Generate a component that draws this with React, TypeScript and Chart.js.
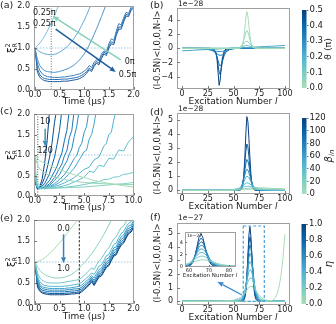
import React, { useEffect, useRef } from "react";
import { Chart, registerables } from "chart.js";
Chart.register(...registerables);

const W = 336;
const H = 324;
const FONT = "DejaVu Sans";
const FRAME = "#a0a0a0";
const TICKC = "#555";
const TXT = "#1a1a1a";
const FS = 8;
Chart.defaults.font.family = FONT;

// ---------------- data ----------------
const tA = [0,0.05,0.1,0.15,0.2,0.25,0.3,0.35,0.4,0.45,0.5,0.55,0.6,0.65,0.7,0.75,0.8,0.85,0.9,0.95,1.0,1.05,1.1,1.15,1.2,1.25,1.3,1.35,1.4,1.45,1.5,1.55,1.6,1.65,1.7,1.75,1.8,1.85,1.9,1.95,2.0];
const timeTicks2 = [0, 0.5, 1, 1.5, 2];
const xiTicks = [0, 0.5, 1, 1.5, 2];
const timeTicks10 = [0, 2.5, 5, 7.5, 10];
const exTicks = [0, 25, 50, 75, 100];
const bTicks = [-4, -2, 0, 2, 4];
const dTicks = [0, 1, 2, 3, 4, 5];
const fTicks = [0, 1, 2, 3, 4, 5];
const insetXTicks = [60, 70, 80];
const insetYTicks = [0, 2, 4];
const cbThetaTicks = [0, 0.1, 0.2, 0.3, 0.4, 0.5];
const cbBetaTicks = [0, 20, 40, 60, 80, 100, 120];
const cbEtaTicks = [0, 0.2, 0.4, 0.6, 0.8, 1.0];

// (a) squeezing vs time for several theta
const a1 = [1.0,1.05,1.12,1.2,1.29,1.4,1.52,1.65,1.79,1.93,2.08];
const a2 = [1.0,0.95,0.91,0.88,0.86,0.85,0.84,0.84,0.85,0.87,0.9,0.94,0.98,1.03,1.09,1.16,1.24,1.33,1.43,1.54,1.66,1.79,1.93,2.08];
const a3 = [1.0,0.72,0.58,0.5,0.46,0.44,0.43,0.42,0.42,0.43,0.44,0.46,0.48,0.5,0.53,0.56,0.6,0.65,0.71,0.78,0.86,0.96,1.07,1.19,1.32,1.46,1.6,1.75,1.9,2.05];
const a4 = [1.0,0.62,0.46,0.38,0.34,0.32,0.31,0.3,0.3,0.3,0.3,0.31,0.31,0.32,0.33,0.34,0.35,0.37,0.38,0.41,0.45,0.5,0.58,0.54,0.66,0.72,0.7,0.86,0.93,0.9,1.1,1.22,1.18,1.4,1.58,1.55,1.72,1.85,1.82,1.97,2.02];
const a5 = [1.0,0.5,0.36,0.3,0.27,0.26,0.25,0.25,0.25,0.25,0.25,0.26,0.26,0.26,0.27,0.28,0.29,0.3,0.32,0.35,0.39,0.44,0.52,0.48,0.6,0.68,0.64,0.8,0.9,0.86,1.05,1.15,1.12,1.35,1.5,1.5,1.68,1.8,1.78,1.92,1.98];
const a6 = [1.0,0.42,0.3,0.25,0.22,0.21,0.2,0.2,0.2,0.2,0.2,0.21,0.21,0.21,0.22,0.23,0.24,0.25,0.27,0.3,0.34,0.4,0.48,0.44,0.56,0.64,0.6,0.75,0.86,0.82,1.0,1.1,1.08,1.3,1.45,1.45,1.62,1.76,1.75,1.9,1.95];
const aCurves = [a1, a2, a3, a4, a5, a6];
const aColors = ["#78bde2", "#63aad8", "#4d96c8", "#3b82bc", "#2b6eaf", "#1c5a9d"];

// (c) squeezing vs time for beta_in (dark = 120 ... light = 10)
const cT = [
  [0,0.1,0.25,0.5,0.75,1,1.25,1.5],
  [0,0.1,0.25,0.5,0.75,1,1.25,1.5,1.75,2,2.25],
  [0,0.1,0.25,0.5,1,1.25,1.5,1.75,2,2.25,2.5,2.75],
  [0,0.1,0.25,0.5,1,1.5,2,2.25,2.5,2.75,3,3.25,3.5],
  [0,0.1,0.25,0.5,1,1.5,2,2.5,2.75,3,3.25,3.5,3.75,4],
  [0,0.1,0.25,0.5,1,1.5,2,2.5,3,3.25,3.5,3.75,4,4.25,4.5],
  [0,0.1,0.25,0.5,1,1.5,2,2.5,3,3.5,4,4.25,4.5,4.75,5,5.25,5.5],
  [0,0.1,0.25,0.5,1,1.5,2,2.5,3,3.5,4,4.5,5,5.25,5.5,5.75,6,6.25],
  [0,0.1,0.25,0.5,1,1.5,2,2.5,3,3.5,4,4.5,5,5.5,6,6.5,7,7.25,7.5,7.75,8,8.25],
  [0,0.1,0.25,0.5,1,2,3,3.5,4,4.5,5,5.5,6,6.5,7,7.5,8,8.5,9,9.5,10],
  [0,0.1,0.25,0.5,1,2,3,4,5,6,6.5,7,7.5,8,8.5,9,9.5,10],
  [0,0.1,0.25,0.5,1,2,3,4,5,6,7,8,9,10],
  [0,0.25,0.5,1,1.5,2,3,4,5,6,7,8,9,10],
  [0,0.25,0.5,1,1.5,2,3,4,5,6,7,8,9,10],
];
const cV = [
  [1,0.3,0.18,0.22,0.42,0.8,1.35,2.1],
  [1,0.31,0.18,0.2,0.3,0.45,0.68,0.95,1.3,1.8,2.15],
  [1,0.32,0.19,0.19,0.3,0.42,0.55,0.75,0.95,1.25,1.6,2.1],
  [1,0.33,0.19,0.18,0.24,0.38,0.6,0.72,0.9,1.05,1.35,1.6,2.1],
  [1,0.34,0.2,0.18,0.21,0.3,0.45,0.68,0.78,0.98,1.1,1.42,1.6,2.1],
  [1,0.35,0.2,0.18,0.2,0.26,0.38,0.52,0.75,0.85,1.02,1.15,1.45,1.7,2.1],
  [1,0.36,0.21,0.18,0.19,0.23,0.3,0.4,0.52,0.7,0.92,0.98,1.18,1.28,1.55,1.7,2.1],
  [1,0.37,0.21,0.18,0.18,0.21,0.26,0.33,0.42,0.55,0.68,0.88,1.08,1.12,1.38,1.5,1.75,2.1],
  [1,0.38,0.22,0.19,0.18,0.2,0.23,0.27,0.32,0.38,0.45,0.55,0.65,0.7,0.88,0.95,1.22,1.28,1.5,1.55,1.85,2.1],
  [1,0.4,0.23,0.19,0.18,0.2,0.25,0.29,0.34,0.4,0.46,0.6,0.58,0.75,0.72,0.92,0.9,1.12,1.1,1.32,1.45],
  [1,0.45,0.27,0.21,0.19,0.19,0.21,0.24,0.28,0.33,0.35,0.4,0.41,0.46,0.47,0.53,0.54,0.58],
  [1,0.55,0.34,0.26,0.22,0.2,0.2,0.21,0.22,0.24,0.26,0.28,0.3,0.33],
  [1,0.78,0.66,0.56,0.5,0.46,0.4,0.36,0.33,0.31,0.3,0.29,0.28,0.28],
  [1,0.92,0.86,0.8,0.74,0.69,0.6,0.52,0.45,0.38,0.33,0.29,0.25,0.22],
];

// (e) squeezing vs time for eta (light = 0 ... dark = 1)
const e0 = [1.0,1.01,1.03,1.06,1.1,1.15,1.2,1.26,1.32,1.39,1.46,1.53,1.6,1.68,1.75,1.83,1.9,1.98,2.06];
const e1 = [1.0,0.88,0.8,0.74,0.7,0.67,0.65,0.63,0.62,0.62,0.62,0.63,0.64,0.66,0.68,0.71,0.75,0.8,0.86,0.92,0.98,1.05,1.12,1.2,1.28,1.37,1.46,1.56,1.66,1.77,1.88,2.0,2.1];
const e2 = [1.0,0.74,0.62,0.56,0.53,0.51,0.5,0.5,0.5,0.5,0.5,0.51,0.52,0.53,0.54,0.55,0.56,0.57,0.59,0.63,0.68,0.74,0.8,0.86,0.82,0.93,1.03,1.08,1.18,1.28,1.34,1.45,1.55,1.6,1.72,1.82,1.86,1.96,2.05];
const e3 = [1.0,0.66,0.53,0.47,0.44,0.43,0.42,0.42,0.42,0.42,0.42,0.42,0.43,0.43,0.44,0.45,0.46,0.47,0.48,0.52,0.57,0.62,0.68,0.74,0.7,0.8,0.9,0.93,1.04,1.15,1.18,1.3,1.42,1.45,1.58,1.68,1.72,1.84,1.92,1.96,2.05];
const e4 = [1.0,0.6,0.47,0.41,0.39,0.38,0.37,0.37,0.37,0.37,0.37,0.37,0.37,0.38,0.38,0.39,0.4,0.41,0.42,0.45,0.5,0.55,0.61,0.68,0.62,0.72,0.82,0.85,0.96,1.07,1.1,1.22,1.34,1.36,1.5,1.6,1.64,1.76,1.86,1.88,1.98];
const e5 = [1.0,0.55,0.43,0.37,0.35,0.34,0.33,0.33,0.33,0.33,0.33,0.33,0.33,0.34,0.34,0.35,0.36,0.36,0.37,0.4,0.45,0.5,0.56,0.64,0.56,0.66,0.76,0.8,0.9,1.0,1.04,1.16,1.28,1.3,1.44,1.54,1.58,1.7,1.8,1.83,1.93];
const e6 = [1.0,0.5,0.38,0.33,0.31,0.3,0.29,0.29,0.29,0.29,0.29,0.29,0.29,0.3,0.3,0.31,0.31,0.32,0.33,0.36,0.41,0.46,0.52,0.6,0.51,0.61,0.71,0.75,0.85,0.95,0.99,1.11,1.22,1.25,1.38,1.48,1.53,1.65,1.75,1.78,1.88];
const e7 = [1.0,0.45,0.34,0.29,0.27,0.26,0.25,0.25,0.25,0.25,0.25,0.25,0.25,0.26,0.26,0.27,0.27,0.28,0.29,0.32,0.37,0.42,0.48,0.56,0.47,0.57,0.67,0.7,0.8,0.9,0.94,1.06,1.17,1.2,1.33,1.43,1.48,1.6,1.7,1.74,1.84];
const e8 = [1.0,0.4,0.3,0.26,0.24,0.23,0.22,0.22,0.22,0.22,0.22,0.22,0.22,0.23,0.23,0.24,0.24,0.25,0.26,0.29,0.34,0.39,0.45,0.53,0.44,0.54,0.64,0.67,0.77,0.87,0.91,1.03,1.14,1.17,1.3,1.4,1.45,1.57,1.67,1.71,1.81];
const eCurves = [e0, e1, e2, e3, e4, e5, e6, e7, e8];

// (b) overlap vs excitation number (x1e-28), dark = 0.5pi ... light = 0
const lB = [0,10,20,26,29,31,33,34,35,36,37,38,39,41,43,46,50,55,57,58,59,60,61,62,63,64,65,66,67,69,72,76,80,90,100];
const b1 = [0,0,0,0,-0.02,-0.15,-0.7,-1.6,-3.4,-5.25,-4.5,-2.8,-1.5,-0.35,-0.05,0,0,0,0,0,0,0,0,0,0,0,0,0,0,0,0,0,0,0,0];
const b2 = [0,0,0,0,-0.05,-0.2,-0.65,-1.3,-2.4,-3.4,-3.7,-3.0,-2.0,-0.6,-0.15,-0.02,0,0,0,0,0,0,0,0,0,0,0,0,0,0,0,0,0,0,0];
const b3 = [0,0,0,-0.02,-0.12,-0.35,-0.8,-1.25,-1.75,-2.25,-2.5,-2.3,-1.9,-1.0,-0.4,-0.08,0,0,0,0,0,0,0,0,0,0,0,0,0,0,0,0,0,0,0];
const b4 = [0,0,-0.02,-0.12,-0.3,-0.45,-0.65,-0.78,-0.88,-0.96,-1.0,-0.98,-0.92,-0.75,-0.5,-0.2,-0.05,0,0,0,0,0,0,0,0,0,0,0,0,0,0,0,0,0,0];
const b5 = [0,-0.02,-0.08,-0.2,-0.3,-0.35,-0.4,-0.42,-0.44,-0.45,-0.45,-0.44,-0.43,-0.38,-0.3,-0.18,-0.05,0,0,0,0,0,0,0,0,0,0,0,0,0,0,0,0,0,0];
const b6 = [-0.35,-0.28,-0.2,-0.16,-0.13,-0.12,-0.1,-0.1,-0.09,-0.08,-0.07,-0.07,-0.06,-0.04,-0.03,-0.01,0.02,0.06,0.08,0.08,0.09,0.1,0.11,0.11,0.12,0.13,0.14,0.14,0.15,0.17,0.19,0.22,0.25,0.32,0.4];
const b7 = [0,0,0,0,0,0,0,0,0,0,0,0,0,0,0,0,0.02,0.1,0.18,0.22,0.28,0.32,0.36,0.39,0.4,0.38,0.35,0.3,0.26,0.17,0.08,0.02,0,0,0];
const b8 = [0,0,0,0,0,0,0,0,0,0,0,0,0,0,0,0,0,0.05,0.2,0.32,0.5,0.68,0.85,0.96,1.0,0.94,0.8,0.62,0.45,0.18,0.04,0,0,0,0];
const b9 = [0,0,0,0,0,0,0,0,0,0,0,0,0,0,0,0,0,0.02,0.15,0.35,0.7,1.2,1.75,2.25,2.5,2.3,1.8,1.2,0.7,0.15,0.02,0,0,0,0];
const b10 = [0,0,0,0,0,0,0,0,0,0,0,0,0,0,0,0,0,0,0.05,0.2,0.6,1.4,2.7,4.3,5.2,4.6,3.2,1.8,0.8,0.12,0,0,0,0,0];
const bCurves = [b10, b9, b8, b7, b6, b5, b4, b3, b2, b1];
const bLevels = [0, 0.1, 0.2, 0.3, 0.45, 0.6, 0.7, 0.8, 0.9, 1.0];

// (d) overlap vs excitation number (x1e-28), light = 0 ... dark = 120
const lD = [0,10,20,30,40,45,50,53,55,56,57,58,59,60,61,62,63,64,65,66,67,68,69,70,72,75,80,85,90,95,100];
const d1 = [0,0,0,0,0,0,0,0,0,0,0.02,0.1,0.35,1.0,2.3,4.0,5.25,4.9,3.7,2.3,1.1,0.45,0.15,0.04,0,0,0,0,0,0,0];
const d2 = [0,0,0,0,0,0,0,0,0,0.02,0.06,0.18,0.45,1.0,1.9,2.8,3.3,3.1,2.4,1.6,0.9,0.45,0.2,0.07,0.01,0,0,0,0,0,0];
const d3 = [0,0,0,0,0,0,0,0,0.02,0.05,0.12,0.25,0.5,0.9,1.4,1.9,2.2,2.1,1.75,1.3,0.85,0.5,0.25,0.12,0.02,0,0,0,0,0,0];
const d4 = [0,0,0,0,0,0,0,0.02,0.06,0.1,0.18,0.32,0.55,0.82,1.1,1.38,1.5,1.45,1.25,1.0,0.75,0.5,0.32,0.2,0.06,0.01,0,0,0,0,0];
const d5 = [0,0,0,0,0,0,0.02,0.05,0.1,0.15,0.22,0.32,0.45,0.6,0.78,0.92,1.0,0.98,0.9,0.75,0.6,0.45,0.33,0.24,0.1,0.03,0,0,0,0,0];
const d6 = [0,0,0,0,0,0.01,0.04,0.08,0.13,0.16,0.2,0.25,0.31,0.38,0.45,0.5,0.53,0.53,0.5,0.45,0.4,0.34,0.28,0.23,0.15,0.07,0.02,0,0,0,0];
const d7 = [0,0,0,0,0.01,0.03,0.07,0.11,0.14,0.16,0.18,0.2,0.22,0.25,0.27,0.28,0.29,0.29,0.28,0.27,0.26,0.24,0.22,0.2,0.17,0.12,0.07,0.04,0.02,0.01,0.01];
const d8 = [0,0,0,0,0.01,0.02,0.04,0.06,0.07,0.08,0.09,0.1,0.11,0.12,0.13,0.13,0.14,0.15,0.15,0.16,0.16,0.17,0.17,0.17,0.18,0.18,0.17,0.15,0.13,0.11,0.09];
const d9 = [0,0,0,0,0,0,0.01,0.02,0.03,0.03,0.04,0.04,0.05,0.05,0.05,0.06,0.06,0.06,0.07,0.07,0.07,0.08,0.08,0.09,0.09,0.1,0.11,0.11,0.1,0.1,0.09];
const dCurves = [d9, d8, d7, d6, d5, d4, d3, d2, d1];

// (f) overlap vs excitation number (x1e-27), light = 0 ... dark = 1
const lF = [0,10,20,30,40,50,55,57,58,59,60,61,62,63,64,65,66,67,68,69,70,71,72,74,76,80,85,88,90,92,94,96,98,100];
const f1 = [0,0,0,0,0,0,0,0,0,0.02,0.08,0.25,0.7,1.7,3.3,4.85,5.45,4.7,3.2,1.8,0.85,0.35,0.12,0.01,0,0,0,0,0,0,0,0,0,0];
const f2 = [0,0,0,0,0,0,0,0,0.01,0.04,0.13,0.35,0.85,1.8,3.1,4.2,4.7,4.3,3.2,2.0,1.05,0.5,0.2,0.03,0,0,0,0,0,0,0,0,0,0];
const f3 = [0,0,0,0,0,0,0,0.01,0.03,0.08,0.2,0.45,0.95,1.8,2.8,3.7,4.1,3.9,3.1,2.15,1.3,0.7,0.35,0.07,0.01,0,0,0,0,0,0,0,0,0];
const f4 = [0,0,0,0,0,0,0.01,0.03,0.06,0.13,0.28,0.55,1.0,1.7,2.5,3.2,3.5,3.4,2.9,2.2,1.5,0.9,0.5,0.13,0.03,0,0,0,0,0,0,0,0,0];
const f5 = [0,0,0,0,0,0.01,0.03,0.07,0.12,0.22,0.4,0.7,1.1,1.6,2.2,2.7,2.9,2.85,2.5,2.0,1.45,0.95,0.6,0.2,0.06,0.01,0,0,0,0,0,0,0,0];
const f6 = [0,0,0,0,0,0.02,0.06,0.12,0.18,0.3,0.48,0.75,1.08,1.45,1.85,2.15,2.3,2.28,2.05,1.72,1.32,0.95,0.65,0.28,0.1,0.02,0,0,0,0,0,0,0,0];
const f7 = [0,0,0,0,0.01,0.04,0.12,0.2,0.27,0.38,0.52,0.72,0.95,1.2,1.42,1.6,1.7,1.7,1.6,1.42,1.2,0.96,0.74,0.4,0.18,0.04,0.01,0,0,0,0,0,0,0];
const f8 = [0,0,0,0,0.02,0.08,0.2,0.28,0.33,0.4,0.48,0.58,0.7,0.82,0.93,1.02,1.08,1.1,1.08,1.02,0.94,0.84,0.73,0.52,0.34,0.12,0.03,0.01,0,0,0,0,0,0];
const f9 = [0,0,0,0,0,0,0,0,0,0,0,0,0,0,0,0,0,0,0,0,0,0,0,0,0,0,0.02,0.08,0.2,0.45,0.95,1.75,3.0,4.9];
const fCurves = [f9, f8, f7, f6, f5, f4, f3, f2, f1];

// ---------------- helpers ----------------
const CM_STOPS = ["#a8ddb5", "#7bccc4", "#4eb3d3", "#2b8cbe", "#0868ac", "#084081"];
function hex(c: string) {
  return [parseInt(c.slice(1, 3), 16), parseInt(c.slice(3, 5), 16), parseInt(c.slice(5, 7), 16)];
}
function cm(t: number) {
  const n = CM_STOPS.length - 1;
  const u = Math.max(0, Math.min(1, t)) * n;
  const i = Math.min(n - 1, Math.floor(u));
  const f = u - i;
  const a = hex(CM_STOPS[i]);
  const b = hex(CM_STOPS[i + 1]);
  const m = a.map((v, k) => Math.round(v + (b[k] - v) * f));
  return `rgb(${m[0]},${m[1]},${m[2]})`;
}
function pts(xs: number[], ys: number[]) {
  const out: any[] = [];
  for (let i = 0; i < ys.length && i < xs.length; i++) out.push({ x: xs[i], y: ys[i] });
  return out;
}
function line(xs: number[], ys: number[], color: string, w = 1) {
  return { data: pts(xs, ys), borderColor: color, borderWidth: w, pointRadius: 0, showLine: true, fill: false, tension: 0 };
}
const f1d = (v: number) => v.toFixed(1);
const fint = (v: number) => (v < 0 ? "\u2212" + Math.abs(v) : String(v));

function drawRich(ctx: any, x: number, y: number, parts: any[], rot = 0, align = "center", color = TXT) {
  ctx.save();
  ctx.translate(x, y);
  if (rot) ctx.rotate((rot * Math.PI) / 180);
  ctx.fillStyle = color;
  ctx.textBaseline = "middle";
  ctx.textAlign = "left";
  let w = 0;
  let prevStart = 0;
  const pos: number[] = [];
  for (const p of parts) {
    ctx.font = `${p.it ? "italic " : ""}${p.s}px ${FONT}`;
    const pw = ctx.measureText(p.t).width;
    if (p.stack) {
      pos.push(prevStart);
      w = Math.max(w, prevStart + pw);
    } else {
      pos.push(w);
      prevStart = w;
      w += pw;
    }
  }
  const off = align === "center" ? -w / 2 : align === "right" ? -w : 0;
  parts.forEach((p, i) => {
    ctx.font = `${p.it ? "italic " : ""}${p.s}px ${FONT}`;
    ctx.fillText(p.t, off + pos[i], p.dy || 0);
  });
  ctx.restore();
}
function drawArrow(ctx: any, x1: number, y1: number, x2: number, y2: number, color: string, w: number, hl = 6, hw = 5) {
  const ang = Math.atan2(y2 - y1, x2 - x1);
  const bx = x2 - hl * Math.cos(ang);
  const by = y2 - hl * Math.sin(ang);
  ctx.save();
  ctx.strokeStyle = color;
  ctx.lineWidth = w;
  ctx.setLineDash([]);
  ctx.beginPath();
  ctx.moveTo(x1, y1);
  ctx.lineTo(bx, by);
  ctx.stroke();
  ctx.fillStyle = color;
  ctx.beginPath();
  ctx.moveTo(x2, y2);
  ctx.lineTo(bx + (hw / 2) * Math.sin(ang), by - (hw / 2) * Math.cos(ang));
  ctx.lineTo(bx - (hw / 2) * Math.sin(ang), by + (hw / 2) * Math.cos(ang));
  ctx.closePath();
  ctx.fill();
  ctx.restore();
}
const T = (t: string, s = FS, extra: any = {}) => ({ t, s, ...extra });

function decorPlugin(d: any) {
  return {
    id: "decor",
    beforeDraw(chart: any) {
      if (!d.bg) return;
      const { ctx, chartArea: a } = chart;
      ctx.save();
      ctx.fillStyle = "#fff";
      ctx.fillRect(a.left, a.top, a.right - a.left, a.bottom - a.top);
      ctx.restore();
    },
    beforeDatasetsDraw(chart: any) {
      const { ctx, chartArea: a, scales } = chart;
      ctx.save();
      for (const h of d.hlines || []) {
        const y = scales.y.getPixelForValue(h.y);
        ctx.strokeStyle = h.color; ctx.lineWidth = h.w; ctx.setLineDash(h.dash);
        ctx.beginPath(); ctx.moveTo(a.left, y); ctx.lineTo(a.right, y); ctx.stroke();
      }
      for (const v of d.vlines || []) {
        const x = scales.x.getPixelForValue(v.x);
        ctx.strokeStyle = v.color; ctx.lineWidth = v.w; ctx.setLineDash(v.dash);
        ctx.beginPath(); ctx.moveTo(x, a.top); ctx.lineTo(x, a.bottom); ctx.stroke();
      }
      ctx.restore();
    },
    afterDatasetsDraw(chart: any) {
      const { ctx, chartArea: a, scales } = chart;
      const sx = scales.x, sy = scales.y;
      ctx.save();
      for (const r of d.rects || []) {
        const x1 = sx.getPixelForValue(r.x1), x2 = sx.getPixelForValue(r.x2);
        const y1 = sy.getPixelForValue(r.y1), y2 = sy.getPixelForValue(r.y2);
        ctx.strokeStyle = r.color; ctx.lineWidth = r.w; ctx.setLineDash(r.dash);
        ctx.strokeRect(Math.min(x1, x2), Math.min(y1, y2), Math.abs(x2 - x1), Math.abs(y2 - y1));
      }
      ctx.setLineDash([]);
      ctx.strokeStyle = FRAME;
      ctx.lineWidth = 1;
      const L = Math.round(a.left) + 0.5, R = Math.round(a.right) - 0.5;
      const Tp = Math.round(a.top) + 0.5, B = Math.round(a.bottom) - 0.5;
      ctx.strokeRect(L, Tp, R - L, B - Tp);
      // inward ticks (bottom and left)
      const tl = d.tickIn == null ? 2.5 : d.tickIn;
      ctx.strokeStyle = TICKC;
      ctx.lineWidth = 0.8;
      ctx.beginPath();
      for (const t of sx.ticks) {
        const x = Math.round(sx.getPixelForValue(t.value)) + 0.5;
        ctx.moveTo(x, B); ctx.lineTo(x, B - tl);
      }
      for (const t of sy.ticks) {
        const y = Math.round(sy.getPixelForValue(t.value)) + 0.5;
        ctx.moveTo(L, y); ctx.lineTo(L + tl, y);
      }
      ctx.stroke();
      ctx.restore();
      for (const ar of d.arrows || []) {
        drawArrow(ctx, sx.getPixelForValue(ar.x1), sy.getPixelForValue(ar.y1), sx.getPixelForValue(ar.x2), sy.getPixelForValue(ar.y2), ar.color, ar.w, ar.hl, ar.hw);
      }
      for (const l of d.labels || []) {
        drawRich(ctx, sx.getPixelForValue(l.x), sy.getPixelForValue(l.y), l.parts, 0, l.align || "center", l.color || TXT);
      }
    },
    afterDraw(chart: any) {
      const { ctx } = chart;
      for (const t of d.texts || []) drawRich(ctx, t.x, t.y, t.parts, t.rot || 0, t.align || "center", t.color || TXT);
    },
  };
}

function axis(kind: string, min: number, max: number, ticks: number[], fmt: any, size: number, fs: number, pad: number) {
  return {
    type: "linear",
    min,
    max,
    afterBuildTicks: (s: any) => {
      s.ticks = ticks.map((v) => ({ value: v }));
    },
    afterFit: (s: any) => {
      if (kind === "x") {
        s.height = size; s.paddingLeft = 0; s.paddingRight = 0;
      } else {
        s.width = size; s.paddingTop = 0; s.paddingBottom = 0;
      }
    },
    grid: { display: true, drawOnChartArea: false, drawTicks: false, color: "rgba(0,0,0,0)" },
    border: { display: false },
    ticks: { autoSkip: false, maxRotation: 0, minRotation: 0, padding: pad, color: TXT, font: { family: FONT, size: fs, lineHeight: 1 }, callback: (v: number) => fmt(v) },
  };
}

function panelConfig(p: any) {
  const { box, yw, xh, x, y, datasets, decor } = p;
  const fs = p.fs || FS;
  const pad = p.pad == null ? 1 : p.pad;
  return {
    type: "scatter",
    data: { datasets },
    options: {
      responsive: false,
      animation: false,
      events: [],
      layout: { padding: { left: box.l - yw, top: box.t, right: W - box.r, bottom: H - box.b - xh } },
      plugins: { legend: { display: false }, tooltip: { enabled: false } },
      scales: {
        x: axis("x", x.min, x.max, x.ticks, x.fmt, xh, fs, pad),
        y: axis("y", y.min, y.max, y.ticks, y.fmt, yw, fs, p.ypad == null ? 4 : p.ypad),
      },
    },
    plugins: [decorPlugin(decor)],
  };
}

function colorbarConfig(box: any, min: number, max: number, ticks: number[], fmt: any, texts: any[]) {
  const yw = 26;
  return {
    type: "scatter",
    data: { datasets: [] },
    options: {
      responsive: false,
      animation: false,
      events: [],
      layout: { padding: { left: box.l, top: box.t, right: W - box.r - yw, bottom: H - box.b } },
      plugins: { legend: { display: false }, tooltip: { enabled: false } },
      scales: {
        x: { display: false, min: 0, max: 1 },
        y: {
          position: "right",
          min,
          max,
          afterBuildTicks: (s: any) => {
            s.ticks = ticks.map((v) => ({ value: v }));
          },
          afterFit: (s: any) => {
            s.width = yw; s.paddingTop = 0; s.paddingBottom = 0;
          },
          grid: { display: true, drawOnChartArea: false, drawTicks: true, tickLength: 2, color: TICKC, lineWidth: 0.8 },
          border: { display: false },
          ticks: { autoSkip: false, padding: 1, color: TXT, font: { family: FONT, size: 8.5 }, callback: (v: number) => fmt(v) },
        },
      },
    },
    plugins: [
      {
        id: "cbar",
        beforeDatasetsDraw(chart: any) {
          const { ctx, chartArea: a } = chart;
          const g = ctx.createLinearGradient(0, a.bottom, 0, a.top);
          CM_STOPS.forEach((c, i) => g.addColorStop(i / (CM_STOPS.length - 1), c));
          ctx.save();
          ctx.fillStyle = g;
          ctx.fillRect(a.left, a.top, a.right - a.left, a.bottom - a.top);
          ctx.restore();
        },
      },
      {
        id: "cbtext",
        afterDraw(chart: any) {
          for (const t of texts) drawRich(chart.ctx, t.x, t.y, t.parts, t.rot || 0, t.align || "center", TXT);
        },
      },
    ],
  };
}

const XI = [T("\u03BE", 10), T("2", 6.5, { dy: -4 }), T("R", 6.5, { dy: 3, stack: true })];
const YLAB = [T("(l-0.5N)<l,0,0,N-l>", 8.5)];
const EXLAB = [T("Excitation Number ", 9), T("l", 9, { it: true })];
const TIMELAB = [T("Time (\u03BCs)", 9)];
const H1 = { y: 1, color: "#9ecae1", dash: [1.5, 1.5], w: 1 };

const boxA = { l: 34, t: 6, r: 133.5, b: 90 };
const boxB = { l: 177, t: 8, r: 290, b: 89 };
const boxC = { l: 34, t: 114, r: 133.5, b: 196 };
const boxD = { l: 177, t: 113, r: 290, b: 194 };
const boxE = { l: 34, t: 220, r: 133.5, b: 304 };
const boxF = { l: 177, t: 223, r: 290, b: 305 };
const boxInset = { l: 185, t: 232, r: 236, b: 267 };

const makers = [
  // (a)
  () =>
    panelConfig({
      box: boxA, yw: 34, xh: 20,
      x: { min: -0.02, max: 2.0, ticks: timeTicks2, fmt: f1d },
      y: { min: 0, max: 2, ticks: xiTicks, fmt: f1d },
      datasets: aCurves.map((c, i) => line(tA, c, aColors[i])),
      decor: {
        hlines: [H1],
        vlines: [{ x: 0.33, color: "#777", dash: [1, 1.5], w: 1 }],
        arrows: [
          { x1: 1.74, y1: 0.72, x2: 0.36, y2: 1.76, color: "#86d0b9", w: 1.5 },
          { x1: 0.42, y1: 1.45, x2: 1.64, y2: 0.43, color: "#1f5d9c", w: 1.5 },
        ],
        labels: [
          { x: -0.04, y: 1.83, parts: [T("0.25\u03C0")], align: "left" },
          { x: -0.04, y: 1.58, parts: [T("0.25\u03C0")], align: "left" },
          { x: 1.82, y: 0.68, parts: [T("0\u03C0")], align: "left" },
          { x: 1.7, y: 0.35, parts: [T("0.5\u03C0")], align: "left" },
        ],
        texts: [
          { x: 0, y: 6, parts: [T("(a)", 9.5)], align: "left" },
          { x: 84, y: 102, parts: TIMELAB },
          { x: 12, y: 48, parts: XI, rot: -90 },
        ],
      },
    }),
  // (b)
  () =>
    panelConfig({
      box: boxB, yw: 30, xh: 12,
      x: { min: -5, max: 105, ticks: exTicks, fmt: fint },
      y: { min: -5.77, max: 5.72, ticks: bTicks, fmt: fint },
      datasets: bCurves.map((c, i) => line(lB, c, cm(bLevels[i]), 1)),
      decor: {
        texts: [
          { x: 150, y: 6, parts: [T("(b)", 9.5)], align: "left" },
          { x: 178, y: 4, parts: [T("1e\u221228", 7.5)], align: "left" },
          { x: 233, y: 102, parts: EXLAB },
          { x: 158, y: 50, parts: YLAB, rot: -90 },
        ],
      },
    }),
  () => colorbarConfig({ l: 302, t: 10, r: 306.5, b: 88 }, 0, 0.5, cbThetaTicks, f1d, [
    { x: 329, y: 49, parts: [T("\u03D1 (\u03C0)", 9.5)], rot: -90 },
  ]),
  // (c)
  () =>
    panelConfig({
      box: boxC, yw: 34, xh: 20,
      x: { min: -0.08, max: 10, ticks: timeTicks10, fmt: f1d },
      y: { min: 0, max: 2, ticks: xiTicks, fmt: f1d },
      datasets: cV.map((v, i) => line(cT[i], v, cm(1 - i / 13))).reverse(),
      decor: {
        hlines: [H1],
        vlines: [{ x: 0.3, color: "#555", dash: [1, 1.5], w: 1 }],
        arrows: [{ x1: 1.05, y1: 1.64, x2: 1.05, y2: 1.2, color: "#3d8fb8", w: 1.5 }],
        labels: [
          { x: 1.05, y: 1.8, parts: [T("10")] },
          { x: 1.05, y: 1.1, parts: [T("120")] },
        ],
        texts: [
          { x: 0, y: 112, parts: [T("(c)", 9.5)], align: "left" },
          { x: 84, y: 208, parts: TIMELAB },
          { x: 12, y: 155, parts: XI, rot: -90 },
        ],
      },
    }),
  // (d)
  () =>
    panelConfig({
      box: boxD, yw: 30, xh: 12,
      x: { min: -5, max: 105, ticks: exTicks, fmt: fint },
      y: { min: -0.26, max: 5.51, ticks: dTicks, fmt: fint },
      datasets: dCurves.map((c, i) => line(lD, c, cm(i / 8), 1)),
      decor: {
        texts: [
          { x: 150, y: 113, parts: [T("(d)", 9.5)], align: "left" },
          { x: 178, y: 109, parts: [T("1e\u221228", 7.5)], align: "left" },
          { x: 233, y: 207, parts: EXLAB },
          { x: 158, y: 155, parts: YLAB, rot: -90 },
        ],
      },
    }),
  () => colorbarConfig({ l: 302, t: 118, r: 306.5, b: 194 }, 0, 120, cbBetaTicks, fint, [
    { x: 329, y: 156, parts: [T("\u03B2", 10, { it: true }), T("in", 7, { dy: 3, it: true })], rot: -90 },
  ]),
  // (e)
  () =>
    panelConfig({
      box: boxE, yw: 34, xh: 20,
      x: { min: -0.02, max: 2.0, ticks: timeTicks2, fmt: f1d },
      y: { min: 0, max: 2, ticks: xiTicks, fmt: f1d },
      datasets: eCurves.map((c, i) => line(tA, c, cm(i / 8))),
      decor: {
        hlines: [H1],
        vlines: [{ x: 0.9, color: "#333", dash: [2.5, 1.5], w: 1 }],
        arrows: [{ x1: 0.58, y1: 1.66, x2: 0.58, y2: 0.97, color: "#3a80b9", w: 1.5 }],
        labels: [
          { x: 0.58, y: 1.79, parts: [T("0.0")] },
          { x: 0.58, y: 0.84, parts: [T("1.0")] },
        ],
        texts: [
          { x: 0, y: 219, parts: [T("(e)", 9.5)], align: "left" },
          { x: 84, y: 317, parts: TIMELAB },
          { x: 12, y: 262, parts: XI, rot: -90 },
        ],
      },
    }),
  // (f)
  () =>
    panelConfig({
      box: boxF, yw: 30, xh: 12,
      x: { min: -5, max: 105, ticks: exTicks, fmt: fint },
      y: { min: -0.27, max: 5.72, ticks: fTicks, fmt: fint },
      datasets: fCurves.map((c, i) => line(lF, c, cm(i / 8), 1)),
      decor: {
        rects: [{ x1: 59.5, y1: 0, x2: 80, y2: 5.5, color: "#4f9fdc", dash: [3, 2], w: 1.2 }],
        arrows: [{ x1: 58.3, y1: 0.46, x2: 34.3, y2: 1.43, color: "#3d8fd1", w: 1.4 }],
        texts: [
          { x: 150, y: 218, parts: [T("(f)", 9.5)], align: "left" },
          { x: 178, y: 218, parts: [T("1e\u221227", 7.5)], align: "left" },
          { x: 233, y: 318, parts: EXLAB },
          { x: 158, y: 263, parts: YLAB, rot: -90 },
        ],
      },
    }),
  // inset of (f)
  () =>
    panelConfig({
      box: boxInset, yw: 8, xh: 8, fs: 5, pad: 1, ypad: 2,
      x: { min: 58, max: 83.5, ticks: insetXTicks, fmt: fint },
      y: { min: -0.1, max: 5.7, ticks: insetYTicks, fmt: fint },
      datasets: fCurves.map((c, i) => line(lF, c, cm(i / 8), 0.9)),
      decor: {
        bg: true,
        tickIn: 1.5,
        texts: [
          { x: 187, y: 236, parts: [T("1e\u221227", 4.5)], align: "left" },
          { x: 210, y: 276, parts: [T("Excitation Number ", 5.5), T("l", 5.5, { it: true })] },
        ],
      },
    }),
  () => colorbarConfig({ l: 301.5, t: 224, r: 306, b: 304 }, 0, 1, cbEtaTicks, f1d, [
    { x: 329, y: 264, parts: [T("\u03B7", 10, { it: true })], rot: -90 },
  ]),
];

function Layer({ make }: { make: () => any }) {
  const ref = useRef<HTMLCanvasElement | null>(null);
  useEffect(() => {
    const chart = new Chart(ref.current as HTMLCanvasElement, make());
    return () => chart.destroy();
  }, []);
  return <canvas ref={ref} width={W} height={H} style={{ position: "absolute", left: 0, top: 0, width: W, height: H }} />;
}

export default function App() {
  return (
    <div style={{ position: "fixed", left: 0, top: 0, width: W, height: H, background: "#fff", overflow: "hidden" }}>
      {makers.map((m, i) => (
        <Layer key={i} make={m} />
      ))}
    </div>
  );
}
